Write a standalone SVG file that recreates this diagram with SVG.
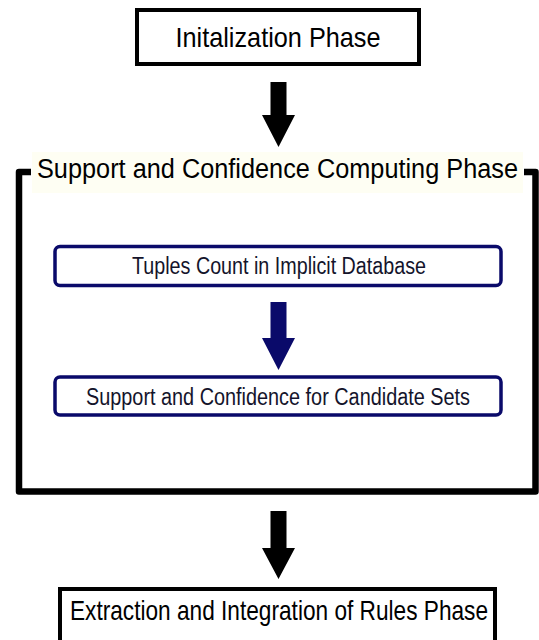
<svg xmlns="http://www.w3.org/2000/svg" width="539" height="640" viewBox="0 0 539 640">
<style>
  .phase { fill: #ffffff; stroke: #000000; stroke-width: 4; }
  .step { fill: #ffffff; stroke: #0a0a6a; stroke-width: 3.5; }
  .t { font-family: "Liberation Sans", Arial, sans-serif; text-anchor: middle; }
  .big { font-size: 28px; fill: #000000; }
  .small { font-size: 23.5px; fill: #14142b; }
  .frame { fill: none; stroke: #000000; stroke-width: 6.5; stroke-linejoin: round; }
</style>
<rect x="0" y="0" width="539" height="640" fill="#ffffff"/>

<g id="init-phase">
  <rect class="phase" x="137" y="10" width="282" height="54"/>
  <text class="t big" x="278" y="47" textLength="205" lengthAdjust="spacingAndGlyphs">Initalization Phase</text>
</g>

<g id="computing-phase">
  <path class="frame" d="M 31 172 H 19 V 491.5 H 535.5 V 172 H 524"/>
  <rect x="32" y="152" width="491" height="41" fill="#fefef3"/>
  <text class="t" x="277.5" y="178" font-size="27" textLength="481" lengthAdjust="spacingAndGlyphs">Support and Confidence Computing Phase</text>
</g>

<g id="tuples-count">
  <rect class="step" x="55" y="246.5" width="446" height="39" rx="5"/>
  <text class="t small" x="279" y="274" textLength="294" lengthAdjust="spacingAndGlyphs">Tuples Count in Implicit Database</text>
</g>

<g id="support-confidence">
  <rect class="step" x="55" y="377" width="446" height="38" rx="5"/>
  <text class="t small" x="278" y="405" textLength="384" lengthAdjust="spacingAndGlyphs">Support and Confidence for Candidate Sets</text>
</g>

<g id="extraction-phase">
  <rect class="phase" x="60" y="589" width="435" height="54"/>
  <text class="t big" x="279" y="620" textLength="418" lengthAdjust="spacingAndGlyphs">Extraction and Integration of Rules Phase</text>
</g>

<g id="connectors">
  <polygon fill="#000000" points="270.5,82 286.5,82 286.5,115 295,115 278.5,147 262,115 270.5,115"/>
  <polygon fill="#0a0a6a" points="270.5,302 286.5,302 286.5,338 295,338 278.5,370 262,338 270.5,338"/>
  <polygon fill="#000000" points="270.5,511 286.5,511 286.5,548 295,548 278.5,579 262,548 270.5,548"/>
</g>
</svg>
